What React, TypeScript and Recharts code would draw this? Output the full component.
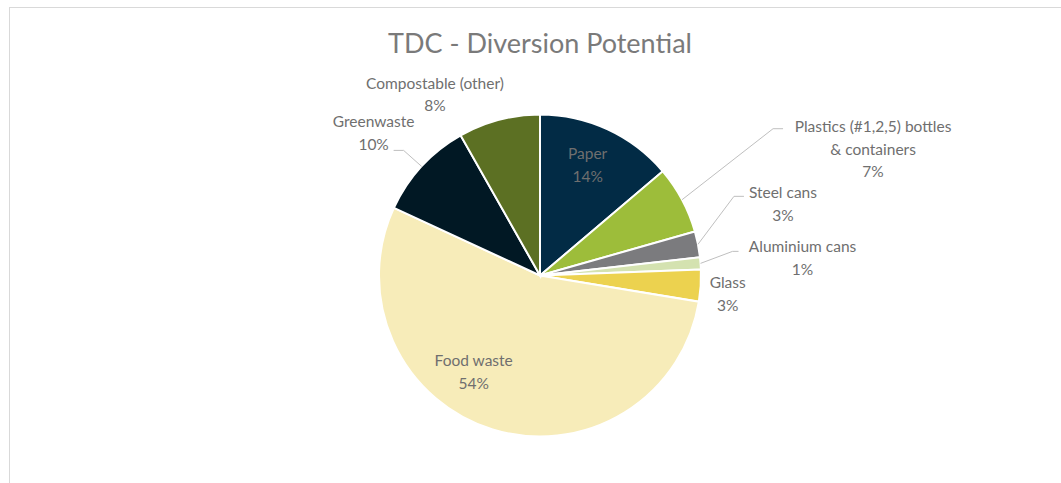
import { PieChart, Pie, Cell } from "recharts"

const categories = [
  "Paper",
  "Plastics (#1,2,5) bottles & containers",
  "Steel cans",
  "Aluminium cans",
  "Glass",
  "Food waste",
  "Greenwaste",
  "Compostable (other)",
]
const shares = [13.8, 6.8, 2.6, 1.2, 3.2, 54.3, 9.9, 8.2]
const sliceColors = ["#022B45", "#9DBD3A", "#7B7B7E", "#D4E2B0", "#ECD24F", "#F7ECB9", "#011824", "#5C7023"]

// label placement, offsets from the slice's outer mid point
const labelLayout: Record<string, { dx: number; dy: number; elbow?: [number, number, number] }> = {
  "Paper": { dx: -20, dy: 35 },
  "Plastics (#1,2,5) bottles & containers": { dx: 191, dy: -51, elbow: [91, -71, 101] },
  "Steel cans": { dx: 85, dy: -41, elbow: [36, -48, 46] },
  "Aluminium cans": { dx: 102, dy: -6, elbow: [32, -12, 38] },
  "Glass": { dx: 27, dy: 8 },
  "Food waste": { dx: -19, dy: -58 },
  "Greenwaste": { dx: -48, dy: -34, elbow: [-18, -16, -28] },
  "Compostable (other)": { dx: -64, dy: -26 },
}

const data = categories.map((name, i) => ({ name, value: shares[i] }))

const RAD = Math.PI / 180
const LINE_H = 22.5
const textColor = "#6f6f6f"

function wrap(text: string, max = 25) {
  const words = text.split(" ")
  const lines: string[] = []
  let cur = ""
  for (const w of words) {
    const next = cur ? cur + " " + w : w
    if (next.length > max && cur) {
      lines.push(cur)
      cur = w
    } else cur = next
  }
  if (cur) lines.push(cur)
  return lines
}

function renderLabel(props: any) {
  const { cx, cy, midAngle, outerRadius, name, percent } = props
  const px = cx + outerRadius * Math.cos(-midAngle * RAD)
  const py = cy + outerRadius * Math.sin(-midAngle * RAD)
  const lay = labelLayout[name] || { dx: 0, dy: 0 }
  const lines = [...wrap(name), `${Math.round(percent * 100)}%`]
  const x = px + lay.dx
  const y0 = py + lay.dy - ((lines.length - 1) * LINE_H) / 2
  return (
    <g>
      {lay.elbow && (
        <polyline
          points={`${px},${py} ${px + lay.elbow[0]},${py + lay.elbow[1]} ${px + lay.elbow[2]},${py + lay.elbow[1]}`}
          fill="none"
          stroke="#BFBFBF"
          strokeWidth={1}
        />
      )}
      <text x={x} y={y0} textAnchor="middle" dominantBaseline="central" fill={textColor} fontSize={15.5} fontFamily="Lato, sans-serif">
        {lines.map((l, i) => (
          <tspan key={i} x={x} y={y0 + i * LINE_H}>
            {l}
          </tspan>
        ))}
      </text>
    </g>
  )
}

export default function App() {
  return (
    <div style={{ position: "fixed", left: 0, top: 0, width: 1061, height: 483, background: "#fff", overflow: "hidden" }}>
      <div
        style={{
          position: "absolute",
          left: 9,
          top: 7,
          width: 1060,
          height: 480,
          borderTop: "1px solid #D9D9D9",
          borderLeft: "1px solid #D9D9D9",
        }}
      />
      <div
        style={{
          position: "absolute",
          left: 0,
          width: 1080,
          top: 26,
          textAlign: "center",
          fontFamily: "Lato, sans-serif",
          fontSize: 27,
          lineHeight: "34px",
          color: "#7a7a7a",
        }}
      >
        TDC - Diversion Potential
      </div>
      <div style={{ position: "absolute", left: 0, top: 0 }}>
        <PieChart width={1061} height={483}>
          <Pie
            data={data}
            dataKey="value"
            nameKey="name"
            cx={535}
            cy={270.5}
            outerRadius={161}
            startAngle={90}
            endAngle={-270}
            stroke="#ffffff"
            strokeWidth={2}
            label={renderLabel}
            labelLine={false}
            isAnimationActive={false}
          >
            {data.map((d, i) => (
              <Cell key={d.name} fill={sliceColors[i]} />
            ))}
          </Pie>
        </PieChart>
      </div>
    </div>
  )
}
